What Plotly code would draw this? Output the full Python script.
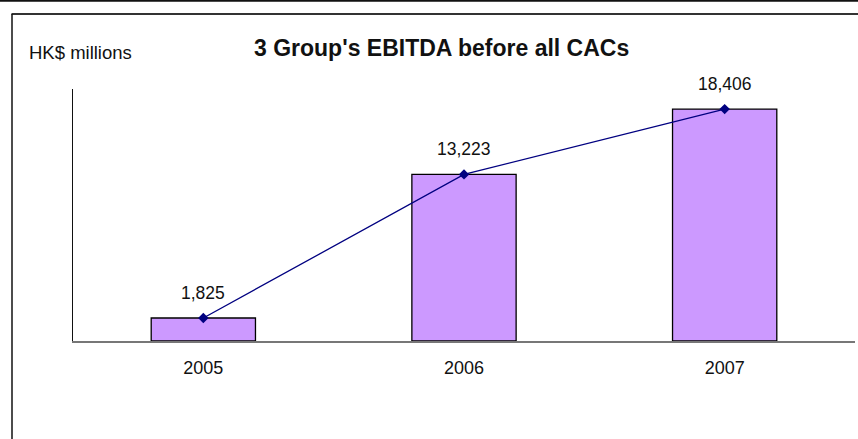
import plotly.graph_objects as go

years = ["2005", "2006", "2007"]
ebitda = [1825, 13223, 18406]
labels = ["1,825", "13,223", "18,406"]

W, H = 858, 439
L, R, T, B = 73, 3, 89, 98
pw, ph = W - L - R, H - T - B

def px(x):
    return (x - L) / pw

def py(y):
    return (H - B - y) / ph

FONT = "Liberation Sans, Arial, sans-serif"

fig = go.Figure()
fig.add_trace(go.Bar(
    x=years, y=ebitda, width=0.4,
    marker=dict(color="#CC99FF", line=dict(color="black", width=1.3)),
    hoverinfo="skip", showlegend=False,
))
fig.add_trace(go.Scatter(
    x=years, y=ebitda, mode="lines+markers",
    line=dict(color="#000080", width=1.3),
    marker=dict(symbol="diamond", size=8, color="#000080"),
    showlegend=False,
))

shapes = [
    dict(type="line", xref="paper", yref="paper", x0=px(0), x1=px(W), y0=py(0.8), y1=py(0.8),
         line=dict(color="#111111", width=2)),
    dict(type="line", xref="paper", yref="paper", x0=px(11.5), x1=px(W), y0=py(14), y1=py(14),
         line=dict(color="#333333", width=2)),
    dict(type="line", xref="paper", yref="paper", x0=px(12), x1=px(12), y0=py(14), y1=py(H),
         line=dict(color="#111111", width=1.5)),
]

annotations = [
    dict(text="<b>3 Group's EBITDA before all CACs</b>", xref="paper", yref="paper",
         x=px(441), y=py(48), xanchor="center", yanchor="middle", showarrow=False,
         font=dict(size=23, color="#111111")),
    dict(text="HK$ millions", xref="paper", yref="paper",
         x=px(27), y=py(52), xanchor="left", yanchor="middle", showarrow=False,
         font=dict(size=18.5, color="#111111")),
]
for i, (v, lab) in enumerate(zip(ebitda, labels)):
    annotations.append(dict(text=lab, x=i, y=v, xref="x", yref="y", showarrow=False,
                            xanchor="center", yanchor="middle", yshift=25,
                            font=dict(size=17.5, color="#111111")))

fig.update_layout(
    width=W, height=H,
    margin=dict(l=L, r=R, t=T, b=B),
    paper_bgcolor="white", plot_bgcolor="white",
    font=dict(family=FONT, size=18, color="#111111"),
    bargap=0.6,
    xaxis=dict(type="category", showgrid=False, showline=True, linecolor="#777777", linewidth=1.5,
               ticks="", tickfont=dict(size=18), zeroline=False, ticklabelstandoff=10),
    yaxis=dict(range=[0, 20000], showgrid=False, showline=True, linecolor="#111111",
               linewidth=1, showticklabels=False, ticks="", zeroline=False),
    shapes=shapes,
    annotations=annotations,
)

fig.write_html("out.html")
